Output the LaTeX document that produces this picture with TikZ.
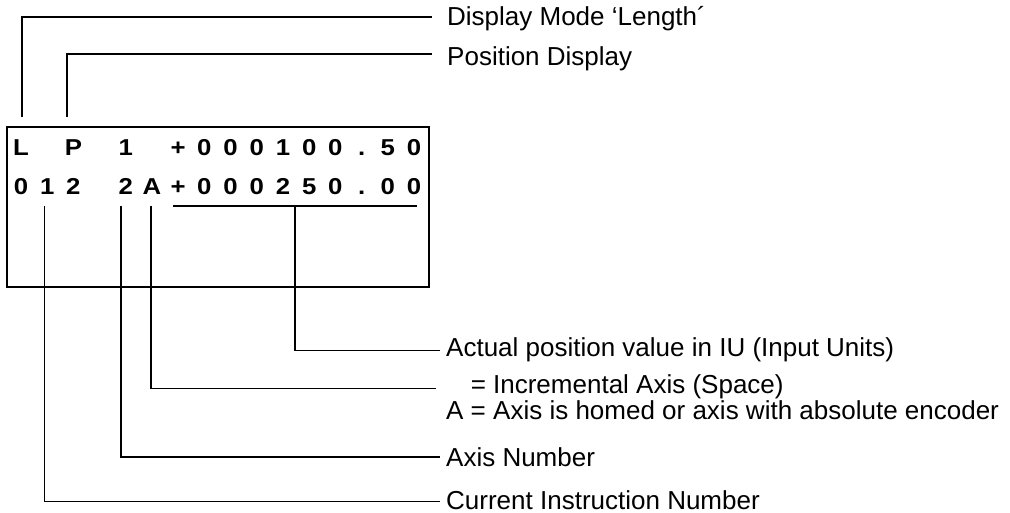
\documentclass[tikz,border=0pt]{standalone}
\usepackage{fontspec}
\setmainfont{Liberation Sans}
\newfontfamily\lcdfont[FakeStretch=1.12]{Liberation Sans Bold}
\begin{document}
\begin{tikzpicture}[x=1pt,y=-1pt,
  lead/.style={line width=1.3pt},
  lcdchar/.style={font=\lcdfont\fontsize{23}{27}\selectfont, inner sep=0pt, anchor=base},
  lbl/.style={font=\fontsize{26}{31}\selectfont, inner sep=0pt, anchor=base west}]
\useasboundingbox (0,0) rectangle (1010,513);

% display frame
\node[draw, line width=1.8pt, minimum width=422pt, minimum height=160pt,
      inner sep=0pt, anchor=north west] (frame) at (6,126) {};

% first display line
\foreach \k/\ch in {0/L,2/P,4/1,6/+,7/0,8/0,9/0,10/1,11/0,12/0,13/.,14/5,15/0}
  \node[lcdchar] (ra\k) at (21+26.2*\k,156) {\ch};
% second display line
\foreach \k/\ch in {0/0,1/1,2/2,4/2,5/A,6/+,7/0,8/0,9/0,10/2,11/5,12/0,13/.,14/0,15/0}
  \node[lcdchar] (rb\k) at (21+26.2*\k,194.5) {\ch};

% labels
\node[lbl] (lblMode) at (447,26) {Display Mode ‘Length´};
\node[lbl] (lblPos)  at (447,65.5) {Position Display};
\node[lbl] (lblAct)  at (446,356) {Actual position value in IU (Input Units)};
\node[lbl] (lblInc)  at (446,393) {\phantom{A} = Incremental Axis (Space)};
\node[lbl] (lblAbs)  at (446,419) {A = Axis is homed or axis with absolute encoder};
\node[lbl] (lblAxis) at (446,466) {Axis Number};
\node[lbl] (lblInstr) at (446,509) {Current Instruction Number};

% leader end points
\coordinate (tipL)  at (22,117);
\coordinate (tipP)  at (67,117);
\coordinate (endMode) at (432,17);
\coordinate (endPos)  at (432,54);

\coordinate (tipInstr) at (44.5,206);
\coordinate (tipAxis)  at (121,206);
\coordinate (tipHome)  at (151,206);
\coordinate (ulLeft)   at (173,206);
\coordinate (ulRight)  at (417,206);
\coordinate (ulMid)    at (295,206);

\coordinate (endAct)   at (440,350.5);
\coordinate (endInc)   at (436,388.5);
\coordinate (endAxis)  at (440,457);
\coordinate (endInstr) at (440,501.5);

% leaders to the upper labels
\draw[lead] (tipL) |- (endMode);
\draw[lead] (tipP) |- (endPos);

% position value bracket and leaders to the lower labels
\draw[lead] (ulLeft) -- (ulRight);
\draw[lead] (ulMid) |- (endAct);
\draw[lead] (tipHome) |- (endInc);
\draw[lead] (tipAxis) |- (endAxis);
\draw[lead] (tipInstr) |- (endInstr);
\end{tikzpicture}
\end{document}
